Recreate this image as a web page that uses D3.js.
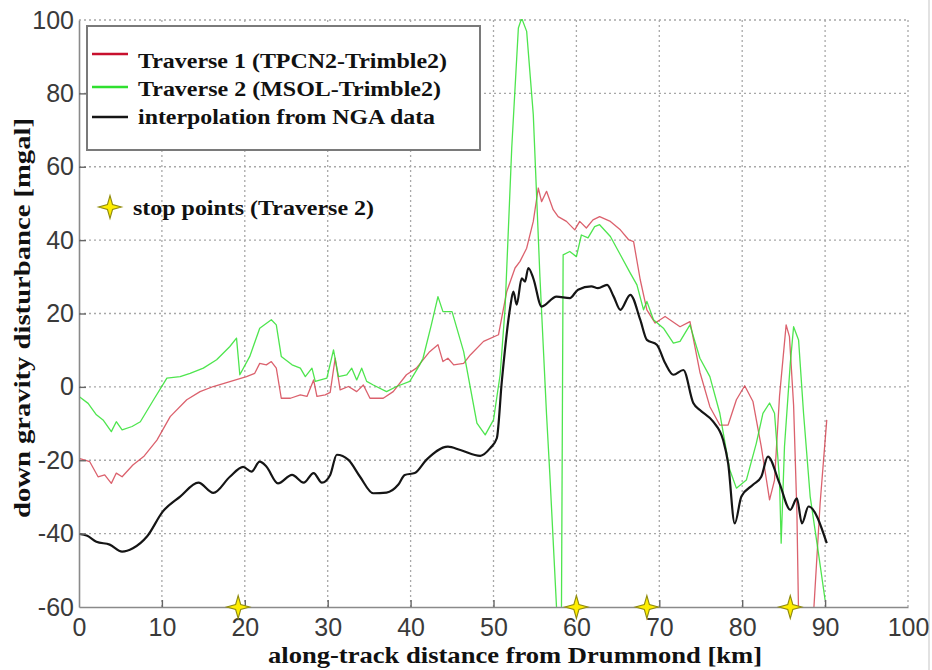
<!DOCTYPE html>
<html>
<head>
<meta charset="utf-8">
<script src="https://cdn.jsdelivr.net/npm/d3@7"></script>
<style>
  html, body { margin: 0; padding: 0; background: #fff; }
  svg { display: block; }
  .tick text { font-family: "Liberation Sans Narrow", "Arial Narrow", "Liberation Sans", Arial, sans-serif; font-size: 25px; fill: #3a3a3a; }
  .serif { font-family: "Liberation Serif", "Times New Roman", serif; font-weight: bold; fill: #111; }
</style>
</head>
<body>
<svg id="chart" width="932" height="670"></svg>
<script>
// Down gravity disturbance along the track from Drummond (km, mGal)
const traverse1 = [
  [0,-19.5],[1.3,-20.4],[2.3,-24.5],[3.1,-24],[3.9,-26.3],[4.5,-23.5],[5.2,-24.5],[6.5,-21.3],
  [7.8,-19],[9.4,-14.5],[11.0,-8.1],[13.0,-3.5],[14.6,-1.3],[16.2,0.1],[18.2,1.4],[20.2,2.8],
  [21.2,3.7],[21.8,6.4],[22.6,6],[23.2,6.9],[23.8,5.1],[24.4,-3.1],[25.5,-3.1],[26.7,-2.2],
  [27.5,-2.6],[28.3,1.9],[28.7,-2.6],[29.7,-2.2],[30.3,-1.5],[30.9,7.8],[31.5,-0.8],[32.5,0.1],
  [33.5,-1.3],[34.3,0.5],[35.1,-3.1],[36.7,-3.1],[37.9,-1.3],[39.5,3.3],[40.7,5.1],[42.3,9.6],
  [43.3,11.5],[43.9,6.9],[44.5,7.8],[45.2,6],[46.4,6.4],[47.2,8.7],[48.8,12.4],[50.6,14.2],
  [51.6,26],[52.6,32.4],[53.2,34.2],[54.0,37.8],[54.8,45.1],[55.4,54.2],[55.8,50.5],[56.4,53.3],
  [57.2,48.3],[57.8,46.4],[58.8,45.1],[59.8,42.8],[60.4,45.1],[61.2,43.3],[62.0,45.5],[62.8,46.4],
  [64.1,45.1],[65.3,42.8],[66.3,40.1],[66.9,39.6],[67.7,29.2],[68.5,21],[69.5,17.4],[70.7,19.2],
  [72.5,16.4],[73.7,17.8],[74.9,4],[76.1,-5.4],[77.3,-10.4],[78.3,-10.4],[79.3,-3.5],[80.3,0.3],
  [81.3,-4],[82.3,-16.3],[83.3,-30.8],[83.9,-25.4],[84.5,-2.6],[85.3,16.9],[85.7,13.7],[86.2,-5],
  [86.6,-34.4],[86.8,-62],[87.6,-70],[88.6,-62],[89.4,-31.7],[90.2,-9]
];

const traverse2 = [
  [0,-2.6],[1.1,-4.5],[2.1,-7.6],[2.9,-9],[3.9,-12.2],[4.5,-9.5],[5.2,-11.7],[6.4,-10.8],
  [7.4,-9.5],[9.0,-3.5],[10.6,2.4],[12.2,2.8],[13.4,3.7],[15.0,5.1],[16.6,7.4],[18.2,11],
  [19.0,13.3],[19.4,3.3],[20.6,8.3],[21.8,16],[23.2,18.3],[23.8,16.9],[24.4,8.3],[25.7,6],
  [26.7,5.1],[27.3,2.8],[28.1,5.1],[28.5,1.5],[29.9,2.4],[30.7,10.1],[31.3,2.8],[32.3,3.3],
  [32.9,5.1],[33.5,1.9],[34.1,5.1],[34.7,1.5],[35.5,0.5],[37.1,-1.3],[38.3,0.1],[39.9,1.5],
  [41.1,6],[41.5,7.8],[42.5,16.9],[43.3,24.6],[43.9,20.5],[45.0,20.5],[46.4,9.6],[48.0,-9.9],
  [49.0,-13.1],[50.0,-9],[50.8,3.3],[51.4,21.5],[52.2,65.1],[53.0,97.8],[53.4,100.5],[54.0,96.9],
  [54.8,74.2],[55.6,30],[56.4,-7.6],[56.8,-24],[57.6,-60],[57.9,-72],[58.2,-60],[58.4,36],
  [59.2,36.9],[60.0,35.5],[60.6,41.4],[61.4,40.6],[62.2,43.7],[62.8,44.2],[64.1,41],[65.3,36],
  [66.5,31],[67.3,27.8],[68.1,21],[68.5,23.3],[69.3,18.3],[70.5,16],[71.7,11.9],[72.5,12.4],
  [73.7,16.9],[74.9,7.8],[76.1,2.8],[77.3,-7.2],[78.5,-22.6],[79.3,-27.6],[80.5,-25.4],[81.7,-15.4],
  [82.5,-7.2],[83.3,-4.4],[83.9,-7.2],[84.5,-25.4],[84.7,-42.6],[85.1,-16.3],[85.8,6.4],[86.2,16.4],
  [86.8,12.8],[87.4,-7.2],[88.2,-29.9],[89.2,-45.4],[90.0,-58.1]
];

const ngaInterp = [
  [0,-40.1],[1,-40.6],[2.1,-42.2],[3.7,-43],[5.2,-44.9],[6.5,-44],[8.2,-40.8],[10.1,-34],
  [12.2,-29.9],[14.4,-26.1],[16.2,-28.9],[18.2,-24.5],[19.8,-21.8],[20.8,-23.1],[21.8,-20.4],[22.6,-21.7],
  [24.0,-26.3],[25.7,-24],[27.1,-26.1],[28.3,-23.5],[29.3,-26.1],[30.3,-24],[31.1,-18.5],[32.5,-19.9],
  [33.9,-24.5],[35.5,-29],[37.1,-28.8],[38.5,-26.7],[39.3,-24],[40.5,-23.5],[41.9,-19.9],[44.5,-16.3],
  [46.0,-17.2],[48.4,-18.8],[49.6,-16.7],[50.4,-14],[51.0,1.4],[52.0,21.5],[52.4,26],[52.8,22.4],
  [53.4,29.6],[53.8,28.7],[54.2,32.4],[54.8,29.6],[55.8,21.9],[57.6,24.6],[59.2,24.2],[60.2,26.5],
  [61.8,27.4],[62.6,26.9],[63.7,27.8],[64.5,24.6],[65.3,21],[66.5,25.1],[67.7,18.3],[68.5,12.8],
  [69.7,11.5],[70.7,6.5],[71.7,3.3],[72.9,4.6],[74.1,-4.4],[74.9,-6.3],[76.5,-9.5],[77.7,-14.5],
  [78.3,-20.8],[79.1,-37.2],[79.9,-29.9],[81.3,-26.7],[82.3,-24.5],[83.1,-19],[84.5,-26.3],[85.8,-33.5],
  [86.6,-30.4],[87.2,-37.2],[88.0,-32.6],[90.2,-42.6]
];

// Stop points of traverse 2, drawn on the lower axis
const stopPointsKm = [19.2, 60.0, 68.5, 85.8];

const xTicks = [0, 10, 20, 30, 40, 50, 60, 70, 80, 90, 100];
const yTicks = [-60, -40, -20, 0, 20, 40, 60, 80, 100];

const series = [
  { name: "Traverse 1 (TPCN2-Trimble2)", data: traverse1, color: "#d23a48", width: 1.3, opacity: 0.8 },
  { name: "Traverse 2 (MSOL-Trimble2)", data: traverse2, color: "#2fe02f", width: 1.3, opacity: 0.85 },
  { name: "interpolation from NGA data", data: ngaInterp, color: "#151515", width: 2.2, opacity: 1 }
];

const svg = d3.select("#chart");
const plot = { left: 79, top: 20, right: 908, bottom: 607 };

const x = d3.scaleLinear().domain([0, 100]).range([plot.left, plot.right]);
const y = d3.scaleLinear().domain([-60, 100]).range([plot.bottom, plot.top]);

// faint frame line at the right edge
svg.append("line").attr("x1", 929).attr("x2", 929).attr("y1", 0).attr("y2", 670)
  .attr("stroke", "#d8d8d8").attr("stroke-width", 1.5);

// dotted grid (also closes the box on the top and right)
const grid = svg.append("g").attr("stroke", "#a8a8a8").attr("stroke-width", 1.3)
  .attr("stroke-dasharray", "2,3");
grid.selectAll("line.gx").data(xTicks.filter(d => d > 0)).join("line")
  .attr("x1", d => x(d)).attr("x2", d => x(d))
  .attr("y1", plot.top).attr("y2", plot.bottom);
grid.selectAll("line.gy").data(yTicks.filter(d => d > -60)).join("line")
  .attr("x1", plot.left).attr("x2", plot.right)
  .attr("y1", d => y(d)).attr("y2", d => y(d));

svg.append("defs").append("clipPath").attr("id", "plotClip")
  .append("rect").attr("x", plot.left).attr("y", plot.top - 1)
  .attr("width", plot.right - plot.left).attr("height", plot.bottom - plot.top + 1);

const line = d3.line().x(d => x(d[0])).y(d => y(d[1]));
const smooth = d3.line().x(d => x(d[0])).y(d => y(d[1])).curve(d3.curveMonotoneX);

const curves = svg.append("g").attr("clip-path", "url(#plotClip)");
series.forEach((s, i) => {
  curves.append("path")
    .attr("d", (i === 2 ? smooth : line)(s.data))
    .attr("fill", "none")
    .attr("stroke", s.color)
    .attr("stroke-width", s.width)
    .attr("stroke-opacity", s.opacity)
    .attr("stroke-linejoin", "round");
});

// axes with inward ticks; plain hyphen for negative labels
const plainLabel = d => String(d);
const xAxis = d3.axisBottom(x).tickValues(xTicks).tickFormat(plainLabel)
  .tickSize(-7).tickSizeOuter(0).tickPadding(11);
const yAxis = d3.axisLeft(y).tickValues(yTicks).tickFormat(plainLabel)
  .tickSize(-7).tickSizeOuter(0).tickPadding(5);

const gx = svg.append("g").attr("transform", `translate(0,${plot.bottom})`).call(xAxis);
const gy = svg.append("g").attr("transform", `translate(${plot.left},0)`).call(yAxis);
[gx, gy].forEach(g => {
  g.select(".domain").attr("stroke", "#8a8a8a").attr("stroke-width", 1.6);
  g.selectAll(".tick line").attr("stroke", "#666").attr("stroke-width", 1.4);
});
gx.selectAll(".tick line").filter(d => d === 0 || d === 100).remove();
gy.selectAll(".tick line").filter(d => d === -60 || d === 100).remove();

// four-pointed star marker
const star4 = {
  draw(ctx, size) {
    const r = Math.sqrt(size) / 2, k = r * 0.22;
    ctx.moveTo(r, 0);
    ctx.lineTo(k, k);
    ctx.lineTo(0, r);
    ctx.lineTo(-k, k);
    ctx.lineTo(-r, 0);
    ctx.lineTo(-k, -k);
    ctx.lineTo(0, -r);
    ctx.lineTo(k, -k);
    ctx.closePath();
  }
};
const starPath = d3.symbol().type(star4).size(23 * 23);

svg.append("g").selectAll("path").data(stopPointsKm).join("path")
  .attr("d", starPath)
  .attr("transform", d => `translate(${x(d)},${y(-60)})`)
  .attr("fill", "#ffee00").attr("stroke", "#8f8a10").attr("stroke-width", 1.1);

// legend
const legend = svg.append("g");
legend.append("rect").attr("x", 87).attr("y", 26).attr("width", 393).attr("height", 124)
  .attr("fill", "#fff").attr("stroke", "#7a7a7a").attr("stroke-width", 2);
const rowLineY = [54, 87, 117];
const rowTextY = [68, 96, 124];
const rowTextW = [309, 303, 297];
series.forEach((s, i) => {
  legend.append("line").attr("x1", 92).attr("x2", 128)
    .attr("y1", rowLineY[i]).attr("y2", rowLineY[i])
    .attr("stroke", i === 0 ? "#c8102e" : s.color).attr("stroke-width", i === 2 ? 2.6 : 2.4);
  legend.append("text").attr("class", "serif").attr("x", 138).attr("y", rowTextY[i])
    .attr("font-size", 21).attr("textLength", rowTextW[i]).attr("lengthAdjust", "spacingAndGlyphs")
    .text(s.name);
});

// stop point key
svg.append("path").attr("d", starPath)
  .attr("transform", "translate(110,207)")
  .attr("fill", "#ffee00").attr("stroke", "#8f8a10").attr("stroke-width", 1.1);
svg.append("text").attr("class", "serif").attr("x", 133).attr("y", 215)
  .attr("font-size", 21).attr("textLength", 241).attr("lengthAdjust", "spacingAndGlyphs")
  .text("stop points (Traverse 2)");

// axis titles
svg.append("text").attr("class", "serif").attr("x", 515).attr("y", 663)
  .attr("text-anchor", "middle").attr("font-size", 24)
  .attr("textLength", 494).attr("lengthAdjust", "spacingAndGlyphs")
  .text("along-track distance from Drummond [km]");
svg.append("text").attr("class", "serif")
  .attr("transform", "translate(30,318) rotate(-90)")
  .attr("text-anchor", "middle").attr("font-size", 24)
  .attr("textLength", 400).attr("lengthAdjust", "spacingAndGlyphs")
  .text("down gravity disturbance [mgal]");
</script>
</body>
</html>
